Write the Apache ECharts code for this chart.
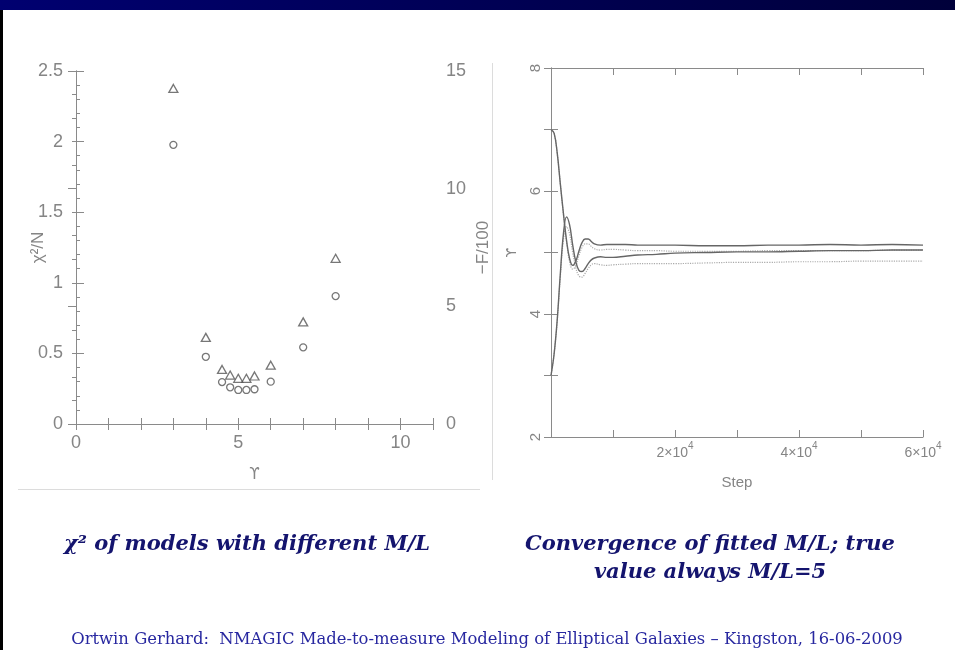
<!DOCTYPE html>
<html><head><meta charset="utf-8">
<script src="https://cdn.jsdelivr.net/npm/echarts@6/dist/echarts.min.js"></script>
<style>html,body{margin:0;padding:0;background:#fff}#c{width:955px;height:650px}</style>
</head><body><div id="c"></div><script>
// Left panel: chi^2/N (circles, left axis) and -F/100 (triangles, right axis) vs Upsilon
const upsilonVals = [3, 4, 4.5, 4.75, 5, 5.25, 5.5, 6, 7, 8];
const chi2N = [1.977, 0.476, 0.297, 0.26, 0.241, 0.241, 0.246, 0.30, 0.543, 0.906];
const negF100 = [14.26, 3.68, 2.32, 2.08, 1.94, 1.94, 2.04, 2.5, 4.34, 7.04];

// Right panel: convergence of fitted M/L vs step
const steps = [0,500,1000,1500,2000,2500,3000,3500,4000,4500,5000,5500,6000,6500,7000,8000,9000,10000,12000,14000,17000,20000,25000,30000,35000,40000,45000,50000,55000,60000];
const solidFrom7 = [7.00,6.94,6.62,6.12,5.64,5.20,4.90,4.79,4.86,5.02,5.16,5.22,5.22,5.18,5.14,5.12,5.13,5.13,5.13,5.12,5.12,5.12,5.11,5.11,5.12,5.12,5.13,5.12,5.13,5.12];
const dottedFrom7 = [7.00,6.94,6.62,6.12,5.62,5.18,4.85,4.73,4.78,4.95,5.08,5.14,5.14,5.10,5.06,5.04,5.05,5.05,5.04,5.03,5.03,5.02,5.02,5.02,5.03,5.03,5.03,5.03,5.04,5.04];
const solidFrom3 = [3.00,3.35,3.90,4.65,5.30,5.58,5.45,5.12,4.85,4.71,4.69,4.74,4.82,4.88,4.91,4.93,4.92,4.92,4.94,4.96,4.97,4.99,5.00,5.01,5.01,5.02,5.03,5.03,5.04,5.04];
const dottedFrom3 = [3.00,3.35,3.88,4.60,5.20,5.42,5.30,5.00,4.75,4.62,4.60,4.66,4.74,4.80,4.82,4.80,4.79,4.80,4.81,4.82,4.82,4.82,4.83,4.84,4.84,4.85,4.85,4.86,4.86,4.86];

const leftXTicks = [0, 5, 10];
const rightXTicks = [20000, 40000, 60000];

const AX = '#8a8a8a', LB = '#858585', FF = 'Liberation Sans';
const pair = (xs, ys) => xs.map((x, i) => [x, ys[i]]);
const lblFont = {color: LB, fontFamily: FF, fontSize: 18};

const chart = echarts.init(document.getElementById('c'), null, {renderer: 'canvas'});
const tick = (len) => ({show: true, inside: true, length: len, lineStyle: {color: AX, width: 1}});

chart.setOption({
  animation: false,
  backgroundColor: '#fff',
  grid: [
    {left: 76, top: 71, width: 357, height: 353},
    {left: 551, top: 68, width: 372, height: 369}
  ],
  xAxis: [
    {gridIndex: 0, type: 'value', min: 0, max: 11, interval: 1, position: 'bottom',
     axisLine: {lineStyle: {color: AX}}, axisTick: tick(6), splitLine: {show: false},
     axisLabel: Object.assign({margin: 10, formatter: v => leftXTicks.includes(v) ? String(v) : ''}, lblFont),
     name: 'ϒ', nameLocation: 'middle', nameGap: 44, nameMoveOverlap: false,
     nameTextStyle: {color: LB, fontFamily: 'DejaVu Sans', fontSize: 15}},
    {gridIndex: 0, type: 'value', min: 0, max: 11, interval: 1, position: 'top',
     axisLine: {lineStyle: {color: AX}}, axisTick: tick(6), axisLabel: {show: false}, splitLine: {show: false}},
    {gridIndex: 1, type: 'value', min: 0, max: 60000, interval: 20000, position: 'bottom',
     axisLine: {lineStyle: {color: AX}}, axisTick: tick(7),
     minorTick: {show: true, splitNumber: 2, length: 7, lineStyle: {color: AX}},
     splitLine: {show: false},
     axisLabel: {margin: 4, color: LB, fontFamily: FF, fontSize: 14,
       formatter: v => rightXTicks.includes(v) ? '{a|' + (v / 10000) + '×10}{s|4}' : '',
       rich: {a: {color: LB, fontFamily: FF, fontSize: 14, verticalAlign: 'bottom'},
              s: {color: LB, fontFamily: FF, fontSize: 10, verticalAlign: 'top', padding: [0, 0, 9, 0]}}},
     name: 'Step', nameLocation: 'middle', nameGap: 38, nameMoveOverlap: false,
     nameTextStyle: {color: LB, fontFamily: FF, fontSize: 15}},
    {gridIndex: 1, type: 'value', min: 0, max: 60000, interval: 20000, position: 'top',
     axisLine: {lineStyle: {color: AX}}, axisTick: tick(7),
     minorTick: {show: true, splitNumber: 2, length: 7, lineStyle: {color: AX}},
     axisLabel: {show: false}, splitLine: {show: false}}
  ],
  yAxis: [
    {gridIndex: 0, type: 'value', min: 0, max: 2.5, interval: 0.5, position: 'left',
     axisLine: {show: true, lineStyle: {color: AX}}, axisTick: tick(8),
     minorTick: {show: true, splitNumber: 5, length: 4, lineStyle: {color: AX}},
     splitLine: {show: false},
     axisLabel: Object.assign({margin: 13}, lblFont),
     name: 'χ²/N', nameLocation: 'middle', nameGap: 29, nameRotate: 90, nameMoveOverlap: false,
     nameTextStyle: {color: LB, fontFamily: FF, fontSize: 17}},
    {gridIndex: 0, type: 'value', min: 0, max: 15, interval: 5, position: 'right',
     axisLine: {show: true, lineStyle: {color: AX}}, axisTick: tick(8),
     minorTick: {show: true, splitNumber: 5, length: 4, lineStyle: {color: AX}},
     splitLine: {show: false},
     axisLabel: Object.assign({margin: 13}, lblFont),
     name: '−F/100', nameLocation: 'middle', nameGap: 42, nameRotate: 90, nameMoveOverlap: false,
     nameTextStyle: {color: LB, fontFamily: FF, fontSize: 17}},
    {gridIndex: 1, type: 'value', min: 2, max: 8, interval: 2, position: 'left',
     axisLine: {show: true, lineStyle: {color: AX}}, axisTick: tick(7),
     minorTick: {show: true, splitNumber: 2, length: 7, lineStyle: {color: AX}},
     splitLine: {show: false},
     axisLabel: {margin: 8, rotate: 90, color: LB, fontFamily: FF, fontSize: 15},
     name: 'ϒ', nameLocation: 'middle', nameGap: 32, nameRotate: 90, nameMoveOverlap: false,
     nameTextStyle: {color: LB, fontFamily: 'DejaVu Sans', fontSize: 14}},
    {gridIndex: 1, type: 'value', min: 2, max: 8, interval: 2, position: 'right',
     axisLine: {show: true, lineStyle: {color: AX}}, axisTick: tick(7),
     minorTick: {show: true, splitNumber: 2, length: 7, lineStyle: {color: AX}},
     axisLabel: {show: false}, splitLine: {show: false}}
  ],
  series: [
    {type: 'scatter', xAxisIndex: 0, yAxisIndex: 0, data: pair(upsilonVals, chi2N),
     symbol: 'circle', symbolSize: 7,
     itemStyle: {color: 'rgba(0,0,0,0)', borderColor: '#555', borderWidth: 1.3}},
    {type: 'scatter', xAxisIndex: 0, yAxisIndex: 1, data: pair(upsilonVals, negF100),
     symbol: 'triangle', symbolSize: [9, 8],
     itemStyle: {color: 'rgba(0,0,0,0)', borderColor: '#555', borderWidth: 1.3}},
    {type: 'line', xAxisIndex: 2, yAxisIndex: 2, data: pair(steps, dottedFrom7), showSymbol: false,
     smooth: 0.4, lineStyle: {color: '#aaa', width: 1.2, type: 'dotted'}},
    {type: 'line', xAxisIndex: 2, yAxisIndex: 2, data: pair(steps, dottedFrom3), showSymbol: false,
     smooth: 0.4, lineStyle: {color: '#aaa', width: 1.2, type: 'dotted'}},
    {type: 'line', xAxisIndex: 2, yAxisIndex: 2, data: pair(steps, solidFrom7), showSymbol: false,
     smooth: 0.4, lineStyle: {color: '#666', width: 1.4}},
    {type: 'line', xAxisIndex: 2, yAxisIndex: 2, data: pair(steps, solidFrom3), showSymbol: false,
     smooth: 0.4, lineStyle: {color: '#666', width: 1.4}}
  ],
  graphic: [
    {type: 'rect', left: 0, top: 0, shape: {width: 955, height: 10},
     style: {fill: new echarts.graphic.LinearGradient(0, 0, 1, 0, [{offset: 0, color: '#000070'}, {offset: 1, color: '#00003a'}])}},
    {type: 'rect', left: 0, top: 10, shape: {width: 3, height: 640}, style: {fill: '#000'}},
    {type: 'line', shape: {x1: 18, y1: 489.5, x2: 480, y2: 489.5}, style: {stroke: '#dcdcdc', lineWidth: 1}},
    {type: 'line', shape: {x1: 492.5, y1: 63, x2: 492.5, y2: 480}, style: {stroke: '#dcdcdc', lineWidth: 1}},
    {type: 'text', x: 247, y: 545, style: {text: 'χ² of models with different M/L', fill: '#14146e',
      font: 'italic bold 21px "DejaVu Serif"', align: 'center', verticalAlign: 'middle'}},
    {type: 'text', x: 710, y: 545, style: {text: 'Convergence of fitted M/L; true', fill: '#14146e',
      font: 'italic bold 21px "DejaVu Serif"', align: 'center', verticalAlign: 'middle'}},
    {type: 'text', x: 710, y: 573, style: {text: 'value always M/L=5', fill: '#14146e',
      font: 'italic bold 21px "DejaVu Serif"', align: 'center', verticalAlign: 'middle'}},
    {type: 'text', x: 487, y: 640, style: {text: 'Ortwin Gerhard:  NMAGIC Made-to-measure Modeling of Elliptical Galaxies – Kingston, 16-06-2009',
      fill: '#2828a0', font: '16.4px "DejaVu Serif"', align: 'center', verticalAlign: 'middle'}}
  ]
});
</script></body></html>
